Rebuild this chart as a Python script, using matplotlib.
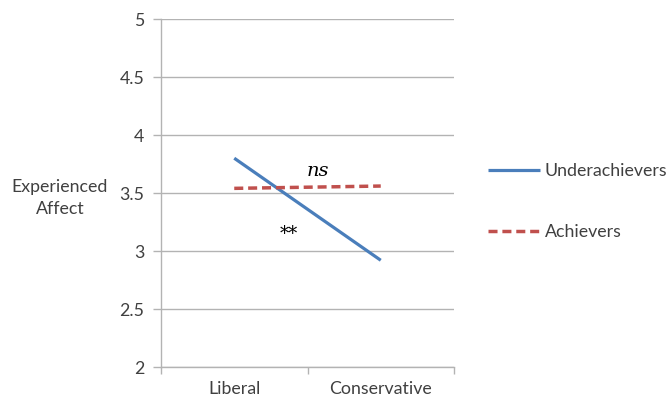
import matplotlib
matplotlib.use("Agg")
import matplotlib.pyplot as plt
from matplotlib.ticker import FixedLocator, NullFormatter

categories = ["Liberal", "Conservative"]
underachievers = [3.80, 2.92]
achievers = [3.54, 3.56]
yticks = [2, 2.5, 3, 3.5, 4, 4.5, 5]
ytick_labels = ["2", "2.5", "3", "3.5", "4", "4.5", "5"]

plt.rcParams['font.family'] = ['Lato', 'DejaVu Sans']
txt = '#404040'
grid = '#b3b3b3'
fs = 12.8

fig = plt.figure(figsize=(6.7, 4), dpi=100)
ax = fig.add_axes([161/670, 1-367/400, (454-161)/670, (367-19)/400])

x = list(range(len(categories)))
ax.plot(x, underachievers, color='#4a7ebb', lw=2.3, solid_capstyle='butt', label='Underachievers')
ax.plot(x, achievers, color='#c0504d', lw=2.5, ls=(0, (2.6, 1.4)), label='Achievers')

ax.set_xlim(-0.5, 1.5)
ax.set_ylim(2, 5)
ax.set_yticks(yticks)
ax.set_yticklabels(ytick_labels, fontsize=fs, color=txt)
ax.set_xticks(x)
ax.set_xticklabels(categories, fontsize=fs, color=txt)
ax.tick_params(axis='x', which='major', length=0, pad=10)
ax.xaxis.set_minor_locator(FixedLocator([-0.5, 0.5, 1.5]))
ax.xaxis.set_minor_formatter(NullFormatter())
ax.tick_params(axis='x', which='minor', length=5, color=grid, width=1)
ax.tick_params(axis='y', length=6, color=grid, width=1, pad=6)
ax.grid(axis='y', color=grid, lw=1)
ax.set_axisbelow(True)
for s in ['top', 'right']:
    ax.spines[s].set_visible(False)
for s in ['left', 'bottom']:
    ax.spines[s].set_color(grid)
    ax.spines[s].set_linewidth(1)

ax.text(0.57, 3.69, 'ns', fontsize=14, style='italic', family='DejaVu Serif', ha='center', va='center', color='black')
ax.text(0.37, 3.15, '**', fontsize=13, family='DejaVu Serif', ha='center', va='center', color='black')

fig.text(60/670, 1-198/400, 'Experienced\nAffect', fontsize=fs, color=txt, ha='center', va='center', linespacing=1.45)

fig.legend(loc='upper left', bbox_to_anchor=(488/670, 1-163/400), frameon=False,
           fontsize=fs, labelcolor=txt, handlelength=2.9, handletextpad=0.3,
           labelspacing=2.55, borderpad=0, borderaxespad=0)

fig.savefig('out.png', dpi=100)
